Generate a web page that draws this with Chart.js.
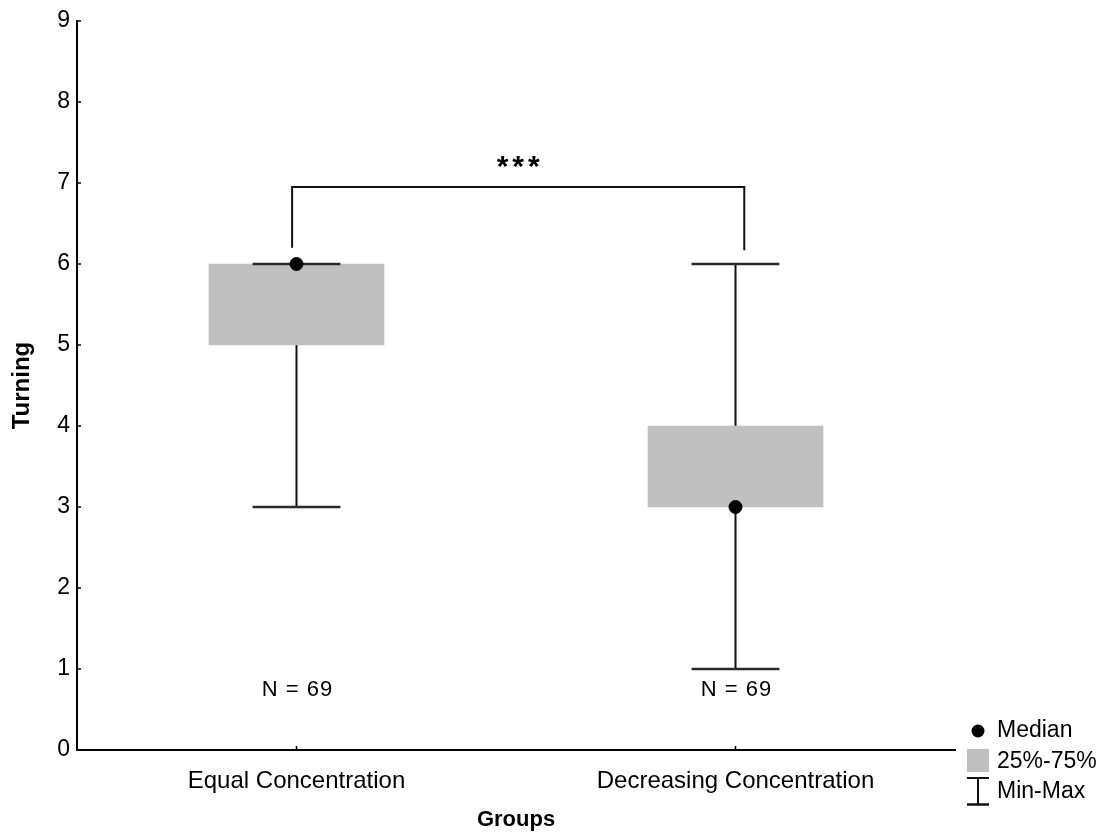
<!DOCTYPE html>
<html>
<head>
<meta charset="utf-8">
<title>Turning by group</title>
<script src="https://cdn.jsdelivr.net/npm/chart.js@4.4.1/dist/chart.umd.min.js"></script>
<style>
  html, body { margin: 0; padding: 0; background: #ffffff; }
  #wrap { width: 1107px; height: 835px; position: relative; }
</style>
</head>
<body>
<div id="wrap"><canvas id="chart" width="1107" height="835"></canvas></div>
<script>
// Groups and their box-plot summaries (Turning score)
const categories = ['Equal Concentration', 'Decreasing Concentration'];
const positions = [0.5, 1.5];
const medians = [6, 3];
const q1 = [5, 3];
const q3 = [6, 4];
const mins = [3, 1];
const maxs = [6, 6];
const groupN = [69, 69];
const yTicks = [0, 1, 2, 3, 4, 5, 6, 7, 8, 9];

// Significance bracket between the two groups
const bracketX = [0.49, 1.52];
const bracketTop = 6.95;
const bracketFeet = [6.2, 6.17];
const bracketLabel = '***';
const bracketLabelY = 7.19;
const nLabelY = 0.74;

const CAP_HALF = 0.1;
const BOX_GREY = '#c0c0c0';
const FONT = '"Liberation Sans", Arial, Helvetica, sans-serif';

const whiskerSets = positions.map((x, i) => ({
  type: 'line',
  data: [{ x: x, y: mins[i] }, { x: x, y: maxs[i] }],
  borderColor: '#111111',
  borderWidth: 2,
  pointRadius: 0,
  fill: false,
  order: 4
}));

const capSets = [];
positions.forEach((x, i) => {
  [mins[i], maxs[i]].forEach(v => {
    capSets.push({
      type: 'line',
      data: [{ x: x - CAP_HALF, y: v }, { x: x + CAP_HALF, y: v }],
      borderColor: '#2a2a2a',
      borderWidth: 2.5,
      pointRadius: 0,
      fill: false,
      order: 2
    });
  });
});

const boxSet = {
  type: 'bar',
  data: positions.map((x, i) => ({ x: x, y: [q1[i], q3[i]] })),
  backgroundColor: BOX_GREY,
  borderWidth: 0,
  barThickness: 175,
  order: 3
};

const medianSet = {
  type: 'scatter',
  data: positions.map((x, i) => ({ x: x, y: medians[i] })),
  backgroundColor: '#000000',
  borderColor: '#000000',
  pointRadius: 6.5,
  order: 0
};

const bracketSet = {
  type: 'line',
  data: [
    { x: bracketX[0], y: bracketFeet[0] },
    { x: bracketX[0], y: bracketTop },
    { x: bracketX[1], y: bracketTop },
    { x: bracketX[1], y: bracketFeet[1] }
  ],
  borderColor: '#111111',
  borderWidth: 2,
  pointRadius: 0,
  fill: false,
  tension: 0,
  order: 1
};

// Small inward tick marks, annotations and the key
const extrasPlugin = {
  id: 'extras',
  afterDatasetsDraw(chart) {
    const { ctx, scales: { x, y } } = chart;
    ctx.save();
    // inward ticks
    ctx.strokeStyle = '#000';
    ctx.lineWidth = 1.5;
    yTicks.forEach(v => {
      const py = y.getPixelForValue(v);
      ctx.beginPath();
      ctx.moveTo(x.left, py);
      ctx.lineTo(x.left + 4, py);
      ctx.stroke();
    });
    positions.forEach(v => {
      const px = x.getPixelForValue(v);
      ctx.beginPath();
      ctx.moveTo(px, y.bottom);
      ctx.lineTo(px, y.bottom - 4);
      ctx.stroke();
    });

    // significance stars
    ctx.fillStyle = '#000';
    ctx.textAlign = 'center';
    ctx.textBaseline = 'middle';
    ctx.font = 'bold 30px ' + FONT;
    ctx.letterSpacing = '4px';
    ctx.fillText(bracketLabel, x.getPixelForValue((bracketX[0] + bracketX[1]) / 2) + 2, y.getPixelForValue(bracketLabelY));

    // group sizes
    ctx.font = '22px ' + FONT;
    ctx.letterSpacing = '1px';
    positions.forEach((v, i) => {
      ctx.fillText('N = ' + groupN[i], x.getPixelForValue(v) + 1, y.getPixelForValue(nLabelY));
    });
    ctx.letterSpacing = '0px';

    // key
    const kx = 967, kw = 22, tx = 997;
    ctx.font = '23px ' + FONT;
    ctx.textAlign = 'left';
    ctx.beginPath();
    ctx.arc(kx + kw / 2, 731, 6.5, 0, Math.PI * 2);
    ctx.fill();
    ctx.fillText('Median', tx, 731);

    ctx.fillStyle = BOX_GREY;
    ctx.fillRect(kx, 749, kw, 23);
    ctx.fillStyle = '#000';
    ctx.fillText('25%-75%', tx, 762);

    ctx.strokeStyle = '#111';
    ctx.lineWidth = 2;
    ctx.beginPath();
    ctx.moveTo(kx, 778); ctx.lineTo(kx + kw, 778);
    ctx.moveTo(kx + kw / 2, 778); ctx.lineTo(kx + kw / 2, 804);
    ctx.stroke();
    ctx.lineWidth = 2.5;
    ctx.beginPath();
    ctx.moveTo(kx, 804.5); ctx.lineTo(kx + kw, 804.5);
    ctx.stroke();
    ctx.fillText('Min-Max', tx, 792);
    ctx.restore();
  }
};

new Chart(document.getElementById('chart'), {
  type: 'bar',
  data: {
    datasets: [...whiskerSets, boxSet, ...capSets, bracketSet, medianSet]
  },
  options: {
    responsive: false,
    animation: false,
    events: [],
    layout: { padding: { left: 0, right: 152, top: 21, bottom: 0 } },
    plugins: {
      legend: { display: false },
      tooltip: { enabled: false }
    },
    scales: {
      x: {
        type: 'linear',
        min: 0,
        max: 2,
        offset: false,
        afterBuildTicks(scale) {
          scale.ticks = positions.map(v => ({ value: v }));
        },
        afterFit(scale) { scale.height = 85; },
        ticks: {
          autoSkip: false,
          maxRotation: 0,
          padding: 17,
          color: '#000',
          font: { family: FONT, size: 24 },
          callback: (value, index) => categories[index]
        },
        grid: { display: false, drawTicks: false },
        border: { display: true, color: '#000', width: 2 },
        title: {
          display: true,
          text: 'Groups',
          color: '#000',
          font: { family: FONT, size: 22, weight: 'bold' },
          padding: { top: 0, bottom: 2 }
        }
      },
      y: {
        type: 'linear',
        min: 0,
        max: 9,
        afterBuildTicks(scale) {
          scale.ticks = yTicks.map(v => ({ value: v }));
        },
        afterFit(scale) { scale.width = 77; },
        ticks: {
          padding: 7,
          color: '#000',
          font: { family: FONT, size: 23 }
        },
        grid: { display: false, drawTicks: false },
        border: { display: true, color: '#000', width: 2 },
        title: {
          display: true,
          text: 'Turning',
          color: '#000',
          font: { family: FONT, size: 24, weight: 'bold' },
          padding: { top: 8, bottom: 0 }
        }
      }
    }
  },
  plugins: [extrasPlugin]
});
</script>
</body>
</html>
